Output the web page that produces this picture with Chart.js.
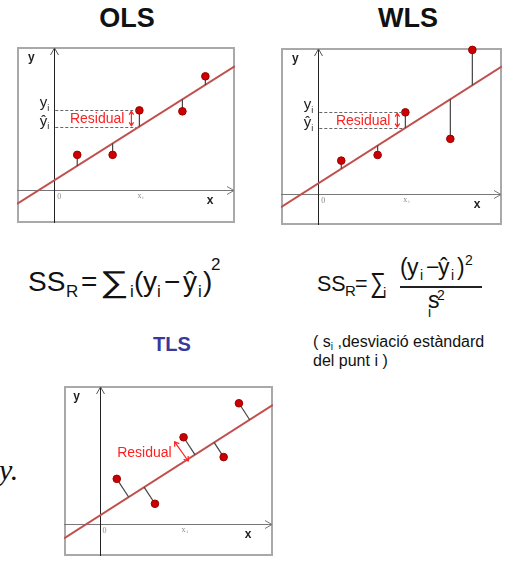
<!DOCTYPE html>
<html><head><meta charset="utf-8">
<script src="https://cdn.jsdelivr.net/npm/chart.js@4/dist/chart.umd.min.js"></script>
<style>
html,body{margin:0;padding:0;background:#fff;width:510px;height:561px;overflow:hidden;position:relative;font-family:"Liberation Sans",Arial,sans-serif;color:#111;}
.abs{position:absolute;white-space:nowrap;line-height:1;}
.f28{font-size:28px;} .f23{font-size:23px;} .f21{font-size:21.5px;} .f17{font-size:17px;} .f15{font-size:15px;} .f14{font-size:14px;}
canvas{position:absolute;}
.sb{position:relative;}
</style></head><body>
<div class="abs" style="left:77px;top:5px;width:100px;text-align:center;font-weight:bold;font-size:27px;">OLS</div>
<div class="abs" style="left:358px;top:5px;width:100px;text-align:center;font-weight:bold;font-size:27px;">WLS</div>
<div class="abs" style="left:122px;top:334px;width:100px;text-align:center;font-weight:bold;font-size:20px;color:#38399a;">TLS</div>

<!-- SS_R = sum_i (y_i - yhat_i)^2 -->
<div class="abs f28" style="left:28px;top:268.3px;">SS</div>
<div class="abs f17" style="left:66px;top:282.6px;">R</div>
<div class="abs f28" style="left:81px;top:268.3px;">=</div>
<div class="abs" style="left:100px;top:266.6px;font-size:30px;transform:scaleX(1.35);transform-origin:left;">∑</div>
<div class="abs f17" style="left:130px;top:282.6px;">i</div>
<div class="abs f28" style="left:134px;top:268.3px;">(</div>
<div class="abs f28" style="left:143px;top:268.3px;">y</div>
<div class="abs f17" style="left:157px;top:282.6px;">i</div>
<div class="abs f28" style="left:164px;top:268.3px;">−</div>
<div class="abs f28" style="left:183px;top:268.3px;">ŷ</div>
<div class="abs f17" style="left:198px;top:282.6px;">i</div>
<div class="abs f28" style="left:203px;top:268.3px;">)</div>
<div class="abs f17" style="left:211px;top:255.6px;">2</div>

<!-- SS_R = sum_i (y_i - yhat_i)^2 / s_i^2 -->
<div class="abs f21" style="left:317px;top:273.8px;">SS</div>
<div class="abs f15" style="left:345px;top:282.8px;">R</div>
<div class="abs f21" style="left:355px;top:273.8px;">=</div>
<div class="abs" style="left:370px;top:269.3px;font-size:28px;transform:scaleX(0.8);transform-origin:left;">∑</div>
<div class="abs f15" style="left:383px;top:285.3px;">i</div>
<div class="abs f23" style="left:400px;top:255.5px;">(</div>
<div class="abs f23" style="left:407px;top:255.5px;">y</div>
<div class="abs f14" style="left:420px;top:268.2px;">i</div>
<div class="abs f23" style="left:426px;top:255.5px;">−</div>
<div class="abs f23" style="left:438px;top:255.5px;">ŷ</div>
<div class="abs f14" style="left:451px;top:268.2px;">i</div>
<div class="abs f23" style="left:457px;top:255.5px;">)</div>
<div class="abs f14" style="left:465px;top:253.2px;">2</div>
<div class="abs" style="left:400px;top:286px;width:82px;height:1.5px;background:#222;"></div>
<div class="abs f23" style="left:428px;top:288.5px;">s</div>
<div class="abs f14" style="left:437px;top:288.2px;">2</div>
<div class="abs f14" style="left:428px;top:305.2px;">i</div>

<div class="abs" style="left:313px;top:333px;font-size:16px;line-height:17px;">( s<span class="sb" style="font-size:10px;top:3px;">i</span> ,desviació estàndard<br>del punt i )</div>
<div class="abs" style="left:-1px;top:455px;font-size:30px;font-family:'Liberation Serif',serif;font-style:italic;">y.</div>

<canvas id="ols" width="228" height="186" style="left:12px;top:42px;width:228px;height:186px;"></canvas>
<canvas id="wls" width="231" height="187" style="left:276px;top:43px;width:231px;height:187px;"></canvas>
<canvas id="tls" width="219" height="180" style="left:59px;top:381px;width:219px;height:180px;"></canvas>

<script>
// ---- data (arbitrary units, origin at the axis crossing) ----
const OLS_X = [1.2, 3.05, 4.45, 6.7, 7.9];
const OLS_Y = [1.85, 1.85, 4.2, 4.15, 6.0];
const OLS_FIT = [0.5, 0.639];      // intercept, slope
const OLS_RANGE = [-1.95, 9.45, -1.75, 7.55];

const WLS_X = [1.2, 3.1, 4.55, 6.9, 8.05];
const WLS_Y = [1.75, 2.05, 4.3, 2.9, 7.6];
const WLS_FIT = [0.55, 0.644];
const WLS_RANGE = [-1.95, 9.6, -1.65, 7.7];

const TLS_X = [0.9, 2.9, 4.4, 6.5, 7.3];
const TLS_Y = [2.37, 1.05, 4.57, 3.52, 6.37];
const TLS_FIT = [0.424, 0.6457];
const TLS_RANGE = [-1.865, 9.085, -1.715, 7.285];

const HIGHLIGHT = 2;               // index of the labelled point (x_i)
const AXIS_NAMES = ['x', 'y'];
const TICK_LABELS = ['0', 'x'];    // origin label, highlighted abscissa (with subscript i)
const Y_LABELS = ['y', 'ŷ'];
const SUB = 'i';
const RESIDUAL_LABEL = 'Residual';

function foot(p, fit, mode) {
  const b = fit[0], m = fit[1];
  if (mode === 'tls') {
    const t = (p.x + (p.y - b) * m) / (1 + m * m);
    return {x: t, y: b + m * t};
  }
  return {x: p.x, y: b + m * p.x};
}

function arrow(ctx, x1, y1, x2, y2, h) {
  const a = Math.atan2(y2 - y1, x2 - x1);
  ctx.beginPath(); ctx.moveTo(x1, y1); ctx.lineTo(x2, y2); ctx.stroke();
  [[x2, y2, a], [x1, y1, a + Math.PI]].forEach(([x, y, ang]) => {
    ctx.beginPath();
    ctx.moveTo(x - h * Math.cos(ang - 0.6), y - h * Math.sin(ang - 0.6));
    ctx.lineTo(x, y);
    ctx.lineTo(x - h * Math.cos(ang + 0.6), y - h * Math.sin(ang + 0.6));
    ctx.stroke();
  });
}

function subText(ctx, main, sub, x, y, size, align) {
  ctx.font = size + 'px "Liberation Sans", Arial, sans-serif';
  const w1 = ctx.measureText(main).width;
  const sSize = Math.round(size * 0.6);
  ctx.font = sSize + 'px "Liberation Sans", Arial, sans-serif';
  const w2 = ctx.measureText(sub).width;
  let x0 = align === 'right' ? x - w1 - w2 : (align === 'center' ? x - (w1 + w2) / 2 : x);
  ctx.textAlign = 'left'; ctx.textBaseline = 'alphabetic';
  ctx.font = size + 'px "Liberation Sans", Arial, sans-serif';
  ctx.fillText(main, x0, y);
  ctx.font = sSize + 'px "Liberation Sans", Arial, sans-serif';
  ctx.fillText(sub, x0 + w1, y + size * 0.25);
}

const diagramPlugin = {
  id: 'diagram',
  beforeDatasetsDraw(chart) {
    const {ctx, chartArea: a, scales: {x, y}} = chart;
    const ox = Math.round(x.getPixelForValue(0)) + 0.5, oy = Math.round(y.getPixelForValue(0)) + 0.5;
    ctx.save();
    ctx.strokeStyle = '#a9a9a9'; ctx.lineWidth = 2;
    ctx.strokeRect(a.left + 1, a.top + 1, a.right - a.left - 2, a.bottom - a.top - 2);
    ctx.lineWidth = 1;
    ctx.strokeStyle = '#777';
    ctx.beginPath(); ctx.moveTo(a.left, oy); ctx.lineTo(a.right - 1, oy); ctx.stroke();
    ctx.beginPath(); ctx.moveTo(a.right - 8, oy - 4); ctx.lineTo(a.right - 1, oy); ctx.lineTo(a.right - 8, oy + 4); ctx.stroke();
    ctx.strokeStyle = '#222';
    ctx.beginPath(); ctx.moveTo(ox, a.bottom); ctx.lineTo(ox, a.top + 1); ctx.stroke();
    ctx.strokeStyle = '#555';
    ctx.beginPath(); ctx.moveTo(ox - 4, a.top + 8); ctx.lineTo(ox, a.top + 1); ctx.lineTo(ox + 4, a.top + 8); ctx.stroke();
    ctx.restore();
  },
  afterDatasetsDraw(chart, args, opts) {
    const {ctx, chartArea: a, scales: {x, y}} = chart;
    const ox = x.getPixelForValue(0), oy = y.getPixelForValue(0);
    const p = {x: opts.xs[HIGHLIGHT], y: opts.ys[HIGHLIGHT]};
    const f = foot(p, opts.fit, opts.mode);
    const px = x.getPixelForValue(p.x), py = y.getPixelForValue(p.y);
    const fx = x.getPixelForValue(f.x), fy = y.getPixelForValue(f.y);
    ctx.save();
    // axis names
    ctx.fillStyle = '#222';
    ctx.font = 'bold 12px "Liberation Sans", Arial, sans-serif';
    ctx.textAlign = 'center'; ctx.textBaseline = 'middle';
    ctx.fillText(AXIS_NAMES[1], ox - 23, a.top + 11);
    ctx.fillText(AXIS_NAMES[0], a.right - 25, oy + 11);
    // tick labels
    ctx.fillStyle = '#8a8a8a';
    ctx.font = '8px "Liberation Serif", serif';
    ctx.fillText(TICK_LABELS[0], ox + 5, oy + 7);
    ctx.fillText(TICK_LABELS[1], px, oy + 6);
    ctx.font = '5px "Liberation Serif", serif';
    ctx.fillText(SUB, px + 3.5, oy + 8);

    ctx.strokeStyle = '#ff2020'; ctx.fillStyle = '#ff2020'; ctx.lineWidth = 1.2;
    if (opts.mode !== 'tls') {
      // dashed guides
      ctx.save();
      ctx.strokeStyle = '#666'; ctx.lineWidth = 1; ctx.setLineDash([3, 2]);
      [py, fy].forEach(v => { ctx.beginPath(); ctx.moveTo(ox + 1, Math.round(v) + 0.5); ctx.lineTo(px - 3, Math.round(v) + 0.5); ctx.stroke(); });
      ctx.restore();
      ctx.fillStyle = '#222';
      subText(ctx, Y_LABELS[0], SUB, ox - 5, py - 3, 15, 'right');
      subText(ctx, Y_LABELS[1], SUB, ox - 5, fy - 1, 15, 'right');
      ctx.fillStyle = '#ff2020';
      ctx.font = '14px "Liberation Sans", Arial, sans-serif';
      ctx.textAlign = 'right'; ctx.textBaseline = 'middle';
      ctx.fillText(RESIDUAL_LABEL, px - 15, (py + fy) / 2 + 1);
      arrow(ctx, px - 8, py + 1, px - 8, fy - 1, 4);
    } else {
      const m = opts.fit[1];
      const n = Math.hypot(1, m);
      const ux = 1 / n, uy = -m / n;
      const off = -10;
      const vx = fx - px, vy = fy - py;
      const x1 = px + off * ux - 0.05 * vx, y1 = py + off * uy - 0.05 * vy;
      const x2 = fx + off * ux + 0.15 * vx, y2 = fy + off * uy + 0.05 * vy;
      arrow(ctx, x1, y1, x2, y2, 5);
      ctx.font = '14px "Liberation Sans", Arial, sans-serif';
      ctx.textAlign = 'right'; ctx.textBaseline = 'middle';
      ctx.fillText(RESIDUAL_LABEL, Math.min(x1, x2) - 3, (y1 + y2) / 2 + 2);
    }
    ctx.restore();
  }
};

function makePanel(id, xs, ys, fit, range, mode) {
  const pts = xs.map((v, i) => ({x: v, y: ys[i]}));
  const resid = pts.map(p => ({
    type: 'line', data: [p, foot(p, fit, mode)], borderColor: '#444', borderWidth: 1.2,
    pointRadius: 0, order: 1, clip: false
  }));
  const fitLine = {
    type: 'line', data: [range[0], range[1]].map(v => ({x: v, y: fit[0] + fit[1] * v})),
    borderColor: '#c0504d', borderWidth: 2, pointRadius: 0, order: 2
  };
  const points = {
    type: 'scatter', data: pts, backgroundColor: '#cc0000', borderColor: '#9a0000',
    borderWidth: 1, pointRadius: 3.8, order: 0, clip: false
  };
  return new Chart(document.getElementById(id), {
    type: 'scatter',
    data: {datasets: [points, ...resid, fitLine]},
    options: {
      responsive: false, animation: false, devicePixelRatio: 1, events: [],
      layout: {padding: 0},
      scales: {
        x: {type: 'linear', min: range[0], max: range[1], display: false},
        y: {type: 'linear', min: range[2], max: range[3], display: false}
      },
      plugins: {legend: {display: false}, tooltip: {enabled: false},
        diagram: {xs, ys, fit, mode}}
    },
    plugins: [diagramPlugin]
  });
}

makePanel('ols', OLS_X, OLS_Y, OLS_FIT, OLS_RANGE, 'ols');
makePanel('wls', WLS_X, WLS_Y, WLS_FIT, WLS_RANGE, 'wls');
makePanel('tls', TLS_X, TLS_Y, TLS_FIT, TLS_RANGE, 'tls');
</script>
</body></html>
